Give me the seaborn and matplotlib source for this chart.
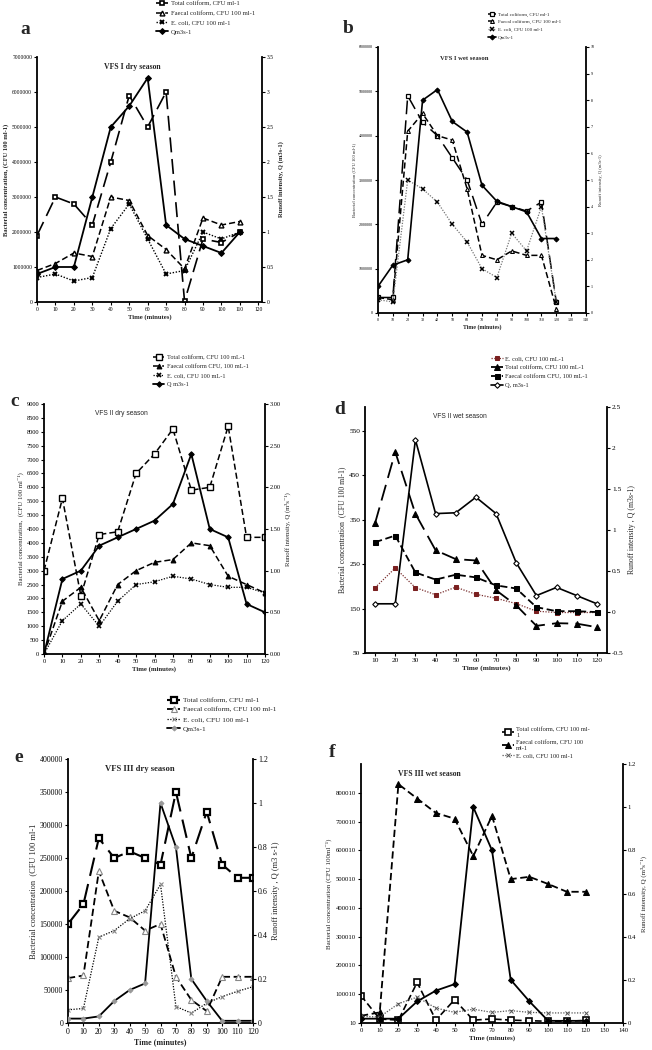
import matplotlib
matplotlib.use('Agg')
import matplotlib.pyplot as plt
import seaborn as sns
from matplotlib.ticker import FuncFormatter, FormatStrFormatter

sns.set_theme(style="white")
plt.rcParams['font.family'] = ['Liberation Serif', 'DejaVu Serif']
plt.rcParams['axes.unicode_minus'] = False

# ---- data ----
# a: VFS I dry season
time_a = [0, 10, 20, 30, 40, 50, 60, 70, 80, 90, 100, 110]
a_total = [1900000, 3000000, 2800000, 2200000, 4000000, 5900000, 5000000, 6000000, 20000, 1800000, 1700000, 2000000]
a_faecal = [900000, 1100000, 1400000, 1300000, 3000000, 2900000, 1900000, 1500000, 950000, 2400000, 2200000, 2300000]
a_ecoli = [700000, 800000, 600000, 700000, 2100000, 2800000, 1800000, 800000, 900000, 2000000, 1800000, 2000000]
a_q = [0.4, 0.5, 0.5, 1.5, 2.5, 2.8, 3.2, 1.1, 0.9, 0.8, 0.7, 1.0]

# b: VFS I wet season
time_b = [0, 10, 20, 30, 40, 50, 60, 70, 80, 90, 100, 110, 120]
b_total = [350000, 350000, 4900000, 4300000, 4000000, 3500000, 3000000, 2000000, 2500000, 2400000, 2300000, 2500000, 250000]
b_faecal = [350000, 300000, 4100000, 4500000, 4000000, 3900000, 2800000, 1300000, 1200000, 1400000, 1300000, 1300000, 100000]
b_ecoli = [300000, 250000, 3000000, 2800000, 2500000, 2000000, 1600000, 1000000, 800000, 1800000, 1400000, 2400000, 250000]
b_q = [1.0, 1.8, 2.0, 8.0, 8.4, 7.2, 6.8, 4.8, 4.2, 4.0, 3.8, 2.8, 2.8]

# c: VFS II dry season
time_c = [0, 10, 20, 30, 40, 50, 60, 70, 80, 90, 100, 110, 120]
c_total = [3000, 5600, 2100, 4300, 4400, 6500, 7200, 8100, 5900, 6000, 8200, 4200, 4200]
c_faecal = [0, 1900, 2400, 1200, 2500, 3000, 3300, 3400, 4000, 3900, 2800, 2500, 2200]
c_ecoli = [0, 1200, 1800, 1000, 1900, 2500, 2600, 2800, 2700, 2500, 2400, 2400, 2200]
c_q = [0.0, 0.9, 1.0, 1.3, 1.4, 1.5, 1.6, 1.8, 2.4, 1.5, 1.4, 0.6, 0.5]

# d: VFS II wet season
time_d = [10, 20, 30, 40, 50, 60, 70, 80, 90, 100, 110, 120]
d_ecoli = [197, 241, 197, 181, 198, 182, 173, 161, 144, 141, 141, 141]
d_total = [342, 502, 363, 281, 261, 258, 191, 157, 111, 117, 116, 108]
d_faecal = [299, 314, 231, 215, 226, 220, 202, 195, 153, 144, 144, 142]
d_q = [0.1, 0.1, 2.1, 1.2, 1.21, 1.4, 1.2, 0.6, 0.2, 0.3, 0.2, 0.1]

# e: VFS III dry season
time_e = [0, 10, 20, 30, 40, 50, 60, 70, 80, 90, 100, 110, 120]
e_total = [150000, 180000, 280000, 250000, 260000, 250000, 240000, 350000, 250000, 320000, 240000, 220000, 220000]
e_faecal = [68000, 72000, 230000, 170000, 160000, 140000, 150000, 70000, 35000, 18000, 70000, 70000, 70000]
e_ecoli = [20000, 22000, 130000, 140000, 158000, 170000, 210000, 25000, 15000, 30000, 40000, 48000, 55000]
e_q = [0.02, 0.02, 0.03, 0.1, 0.15, 0.18, 1.0, 0.8, 0.2, 0.1, 0.01, 0.01, 0.01]

# f: VFS III wet season
time_f = [0, 10, 20, 30, 40, 50, 60, 70, 80, 90, 100, 110, 120]
f_total = [95000, 14000, 10000, 141000, 10000, 81000, 10000, 14000, 10000, 8000, 6000, 6000, 9000]
f_faecal = [25000, 37000, 830000, 780000, 730000, 710000, 580000, 720000, 500000, 508000, 483000, 456000, 456000]
f_ecoli = [23000, 21000, 67000, 90000, 52000, 37000, 48000, 37000, 43000, 37000, 35000, 35000, 35000]
f_q = [0.02, 0.02, 0.02, 0.1, 0.15, 0.18, 1.0, 0.8, 0.2, 0.1, 0.01, 0.01, 0.01]

W, H = 652, 1050
fig = plt.figure(figsize=(W / 100, H / 100), dpi=100)
fig.patch.set_facecolor('white')

LONG = (0, (9, 4))
DASH = (0, (4, 2))
DOT = (0, (1, 1.2))


def make_axes(l, t, r, b):
    ax = fig.add_axes([l / W, 1 - b / H, (r - l) / W, (b - t) / H])
    ax2 = ax.twinx()
    for a in (ax, ax2):
        a.set_facecolor('none')
        a.spines['top'].set_visible(False)
        a.grid(False)
    ax.spines['right'].set_visible(False)
    ax2.spines['left'].set_visible(False)
    ax2.spines['bottom'].set_visible(False)
    for s in ('left', 'bottom'):
        ax.spines[s].set_color('black')
        ax.spines[s].set_linewidth(1.3)
    ax2.spines['right'].set_color('black')
    ax2.spines['right'].set_linewidth(1.3)
    return ax, ax2


def line(ax, x, y, **kw):
    sns.lineplot(x=x, y=y, ax=ax, legend=False, sort=False, **kw)


def finish(ax, ax2, fs, yl_left, yl_right, xlabel_fs, ylabel_fs, bold_y=False):
    ax.tick_params(axis='both', labelsize=fs, direction='out', length=2, width=0.8,
                   left=True, bottom=True, pad=1.5, colors='black')
    ax2.tick_params(axis='y', labelsize=fs, direction='out', length=2, width=0.8,
                    right=True, pad=1.5, colors='black')
    ax.set_xlabel('Time (minutes)', fontsize=xlabel_fs, fontweight='bold', labelpad=1.5)
    w = 'bold' if bold_y else 'normal'
    ax.set_ylabel(yl_left, fontsize=ylabel_fs, fontweight=w, labelpad=2)
    ax2.set_ylabel(yl_right, fontsize=ylabel_fs, fontweight=w, labelpad=3)


def add_legend(axes_pair, x, y, fs, spacing, hl=1.8):
    h1, l1 = axes_pair[0].get_legend_handles_labels()
    h2, l2 = axes_pair[1].get_legend_handles_labels()
    fig.legend(h1 + h2, l1 + l2, loc='upper left', bbox_to_anchor=(x / W, 1 - y / H),
               frameon=False, fontsize=fs, handlelength=hl, handletextpad=0.4,
               labelspacing=spacing, borderpad=0, borderaxespad=0)


plain = FuncFormatter(lambda v, p: f'{v:.0f}')
gen = FuncFormatter(lambda v, p: f'{v:g}')

# ---------------- a ----------------
ax, ax2 = make_axes(37, 57, 262, 302)
line(ax, time_a, a_total, color='black', linestyle=LONG, linewidth=1.2, marker='s', markersize=3.5,
     markerfacecolor='white', markeredgecolor='black', markeredgewidth=1.2, label='Total coliform, CFU ml-1')
line(ax, time_a, a_faecal, color='black', linestyle=DASH, linewidth=1.1, marker='^', markersize=3.5,
     markerfacecolor='white', markeredgecolor='black', markeredgewidth=1.0, label='Faecal coliform, CFU 100 ml-1')
line(ax, time_a, a_ecoli, color='black', linestyle=DOT, linewidth=1.0, marker='x', markersize=3.5,
     markeredgewidth=1.4, markeredgecolor='black', label='E. coli, CFU 100 ml-1')
line(ax2, time_a, a_q, color='black', linestyle='-', linewidth=1.3, marker='D', markersize=3,
     markerfacecolor='black', markeredgecolor='black', label='Qm3s-1')
ax.set_xlim(0, 122)
ax.set_xticks(range(0, 121, 10))
ax.set_ylim(0, 7000000)
ax.set_yticks(range(0, 7000001, 1000000))
ax.yaxis.set_major_formatter(plain)
ax2.set_ylim(0, 3.5)
ax2.set_yticks([0, 0.5, 1, 1.5, 2, 2.5, 3, 3.5])
ax2.yaxis.set_major_formatter(gen)
finish(ax, ax2, 4.0, 'Bacterial concentration, (CFU 100 ml-1)', 'Runoff intensity, Q (m3s-1)', 4.8, 4.7, bold_y=True)
ax.text(0.3, 0.95, 'VFS I dry season', transform=ax.transAxes, fontsize=5.6, fontweight='bold')
add_legend((ax, ax2), 156, 1, 4.8, 0.55)
fig.text(20 / W, 1 - 34 / H, 'a', fontsize=14, fontweight='bold', va='baseline')

# ---------------- b ----------------
ax, ax2 = make_axes(378, 47, 586, 313)
line(ax, time_b, b_total, color='black', linestyle=LONG, linewidth=1.1, marker='s', markersize=2.5,
     markerfacecolor='white', markeredgecolor='black', markeredgewidth=0.9, label='Total coliform, CFU ml-1')
line(ax, time_b, b_faecal, color='black', linestyle=DASH, linewidth=1.1, marker='^', markersize=2.8,
     markerfacecolor='white', markeredgecolor='black', markeredgewidth=0.8, label='Faecal coliform, CFU 100 ml-1')
line(ax, time_b, b_ecoli, color='#777777', linestyle=DOT, linewidth=0.9, marker='x', markersize=3,
     markeredgewidth=1.1, markeredgecolor='black', label='E. coli, CFU 100 ml-1')
line(ax2, time_b, b_q, color='black', linestyle='-', linewidth=1.2, marker='D', markersize=2.5,
     markerfacecolor='black', markeredgecolor='black', label='Qm3s-1')
ax.set_xlim(0, 140)
ax.set_xticks(range(0, 141, 10))
ax.set_ylim(0, 6000000)
ax.set_yticks(range(0, 6000001, 1000000))
ax.yaxis.set_major_formatter(plain)
ax2.set_ylim(0, 10)
ax2.set_yticks(range(0, 11))
finish(ax, ax2, 3.0, 'Bacterial concentration (CFU 100 ml-1)', 'Runoff intensity, Q (m3s-1)', 4.3, 3.3)
ax.text(0.3, 0.95, 'VFS I wet season', transform=ax.transAxes, fontsize=4.8, fontweight='bold')
add_legend((ax, ax2), 488, 12, 3.6, 0.6, hl=1.6)
fig.text(343 / W, 1 - 33 / H, 'b', fontsize=14, fontweight='bold', va='baseline')

# ---------------- c ----------------
ax, ax2 = make_axes(44, 404, 265, 654)
line(ax, time_c, c_total, color='black', linestyle=DASH, linewidth=1.1, marker='s', markersize=3.8,
     markerfacecolor='white', markeredgecolor='black', markeredgewidth=1.0, label='Total coliform, CFU 100 mL-1')
line(ax, time_c, c_faecal, color='black', linestyle=DASH, linewidth=1.1, marker='^', markersize=3.5,
     markerfacecolor='black', markeredgecolor='black', label='Faecal coliform CFU, 100 mL-1')
line(ax, time_c, c_ecoli, color='black', linestyle=DOT, linewidth=0.9, marker='x', markersize=3.2,
     markeredgewidth=1.2, markeredgecolor='black', label='E. coli, CFU 100 mL-1')
line(ax2, time_c, c_q, color='black', linestyle='-', linewidth=1.3, marker='D', markersize=2.8,
     markerfacecolor='black', markeredgecolor='black', label='Q m3s-1')
ax.set_xlim(0, 120)
ax.set_xticks(range(0, 121, 10))
ax.set_ylim(0, 9000)
ax.set_yticks(range(0, 9001, 500))
ax.yaxis.set_major_formatter(plain)
ax2.set_ylim(0, 3)
ax2.set_yticks([0, 0.5, 1, 1.5, 2, 2.5, 3])
ax2.yaxis.set_major_formatter(FormatStrFormatter('%.2f'))
finish(ax, ax2, 4.6, 'Bacterial concentration,  (CFU 100 ml\u207b\u00b9)', 'Runoff intensity, Q (m\u00b3s\u207b\u00b9)', 4.9, 4.9)
ax.text(0.23, 0.955, 'VFS II dry season', transform=ax.transAxes, fontsize=4.8,
        family=['Liberation Sans', 'DejaVu Sans'])
add_legend((ax, ax2), 153, 355, 4.5, 0.55)
fig.text(10 / W, 1 - 406 / H, 'c', fontsize=14, fontweight='bold', va='baseline')

# ---------------- d ----------------
ax, ax2 = make_axes(365, 407, 607, 653)
line(ax, time_d, d_ecoli, color='#7a3030', linestyle=DOT, linewidth=0.9, marker='s', markersize=2.6,
     markerfacecolor='#7a2020', markeredgecolor='#7a2020', label='E. coli, CFU 100 mL-1')
line(ax, time_d, d_total, color='black', linestyle=LONG, linewidth=1.3, marker='^', markersize=3.8,
     markerfacecolor='black', markeredgecolor='black', label='Total coliform, CFU 100 mL-1')
line(ax, time_d, d_faecal, color='black', linestyle=DASH, linewidth=1.3, marker='s', markersize=3.6,
     markerfacecolor='black', markeredgecolor='black', label='Faecal coliform CFU, 100 mL-1')
line(ax2, time_d, d_q, color='black', linestyle='-', linewidth=1.2, marker='D', markersize=2.8,
     markerfacecolor='white', markeredgecolor='black', markeredgewidth=0.8, label='Q, m3s-1')
ax.set_xlim(5, 125)
ax.set_xticks(time_d)
ax.set_ylim(50, 603)
ax.set_yticks(range(50, 551, 100))
ax.yaxis.set_major_formatter(plain)
ax2.set_ylim(-0.5, 2.5)
ax2.set_yticks([-0.5, 0, 0.5, 1, 1.5, 2, 2.5])
ax2.yaxis.set_major_formatter(gen)
finish(ax, ax2, 5.3, 'Bacterial concentration  (CFU 100 ml-1)', 'Runoff intensity , Q (m3s-1)', 5.4, 5.6)
ax.text(0.28, 0.955, 'VFS II wet season', transform=ax.transAxes, fontsize=4.8,
        family=['Liberation Sans', 'DejaVu Sans'])
add_legend((ax, ax2), 491, 356, 4.6, 0.55)
fig.text(334 / W, 1 - 414 / H, 'd', fontsize=14, fontweight='bold', va='baseline')

# ---------------- e ----------------
ax, ax2 = make_axes(68, 759, 253, 1023)
line(ax, time_e, e_total, color='black', linestyle=LONG, linewidth=1.5, marker='s', markersize=5,
     markerfacecolor='white', markeredgecolor='black', markeredgewidth=1.6, label='Total coliform, CFU ml-1')
line(ax, time_e, e_faecal, color='black', linestyle=DASH, linewidth=1.3, marker='^', markersize=3.8,
     markerfacecolor='white', markeredgecolor='#888888', markeredgewidth=0.8, label='Faecal coliform, CFU 100 ml-1')
line(ax, time_e, e_ecoli, color='black', linestyle=DOT, linewidth=0.9, marker='x', markersize=3.5,
     markeredgewidth=0.8, markeredgecolor='#888888', label='E. coli, CFU 100 ml-1')
line(ax2, time_e, e_q, color='black', linestyle='-', linewidth=1.3, marker='D', markersize=2.5,
     markerfacecolor='#999999', markeredgecolor='#999999', label='Qm3s-1')
ax.set_xlim(0, 120)
ax.set_xticks(range(0, 121, 10))
ax.set_ylim(0, 400000)
ax.set_yticks(range(0, 400001, 50000))
ax.yaxis.set_major_formatter(plain)
ax2.set_ylim(0, 1.2)
ax2.set_yticks([0, 0.2, 0.4, 0.6, 0.8, 1.0, 1.2])
ax2.yaxis.set_major_formatter(gen)
finish(ax, ax2, 5.7, 'Bacterial concentration  (CFU 100 ml-1', 'Runoff intensity , Q (m3 s-1)', 5.8, 6.0)
ax.text(0.2, 0.955, 'VFS III dry season', transform=ax.transAxes, fontsize=6.2, fontweight='bold')
add_legend((ax, ax2), 167, 697, 5.3, 0.45)
fig.text(14 / W, 1 - 762 / H, 'e', fontsize=14, fontweight='bold', va='baseline')

# ---------------- f ----------------
ax, ax2 = make_axes(361, 764, 623, 1023)
line(ax, time_f, f_total, color='black', linestyle=DASH, linewidth=1.2, marker='s', markersize=4,
     markerfacecolor='white', markeredgecolor='black', markeredgewidth=1.2, label='Total coliform, CFU 100 ml-\n1')
line(ax, time_f, f_faecal, color='black', linestyle=DASH, linewidth=1.3, marker='^', markersize=4,
     markerfacecolor='black', markeredgecolor='black', label='Faecal coliform, CFU 100\nml-1')
line(ax, time_f, f_ecoli, color='#555555', linestyle=DOT, linewidth=0.9, marker='x', markersize=2.5,
     markeredgewidth=0.7, markeredgecolor='#555555', label='E. coli, CFU 100 ml-1')
line(ax2, time_f, f_q, color='black', linestyle='-', linewidth=1.3, marker='D', markersize=3,
     markerfacecolor='black', markeredgecolor='black')
ax.set_xlim(0, 140)
ax.set_xticks(range(0, 141, 10))
ax.set_ylim(10, 900010)
ax.set_yticks(range(10, 800011, 100000))
ax.yaxis.set_major_formatter(plain)
ax2.set_ylim(0, 1.2)
ax2.set_yticks([0, 0.2, 0.4, 0.6, 0.8, 1.0, 1.2])
ax2.yaxis.set_major_formatter(gen)
finish(ax, ax2, 4.8, 'Bacterial concentration (CFU 100ml\u207b\u00b9)', 'Runoff intensity, Q (m\u00b3s\u207b\u00b9)', 5.0, 5.0)
ax.yaxis.set_label_coords(-0.11, 0.5)
ax.text(0.14, 0.955, 'VFS III wet season', transform=ax.transAxes, fontsize=5.6, fontweight='bold')
h1, l1 = ax.get_legend_handles_labels()
fig.legend(h1, l1, loc='upper left', bbox_to_anchor=(502 / W, 1 - 727 / H), frameon=False,
           fontsize=4.6, handlelength=1.8, handletextpad=0.4, labelspacing=0.3, borderpad=0, borderaxespad=0)
fig.text(329 / W, 1 - 757 / H, 'f', fontsize=14, fontweight='bold', va='baseline')

fig.savefig('out.png', dpi=100, facecolor='white')
